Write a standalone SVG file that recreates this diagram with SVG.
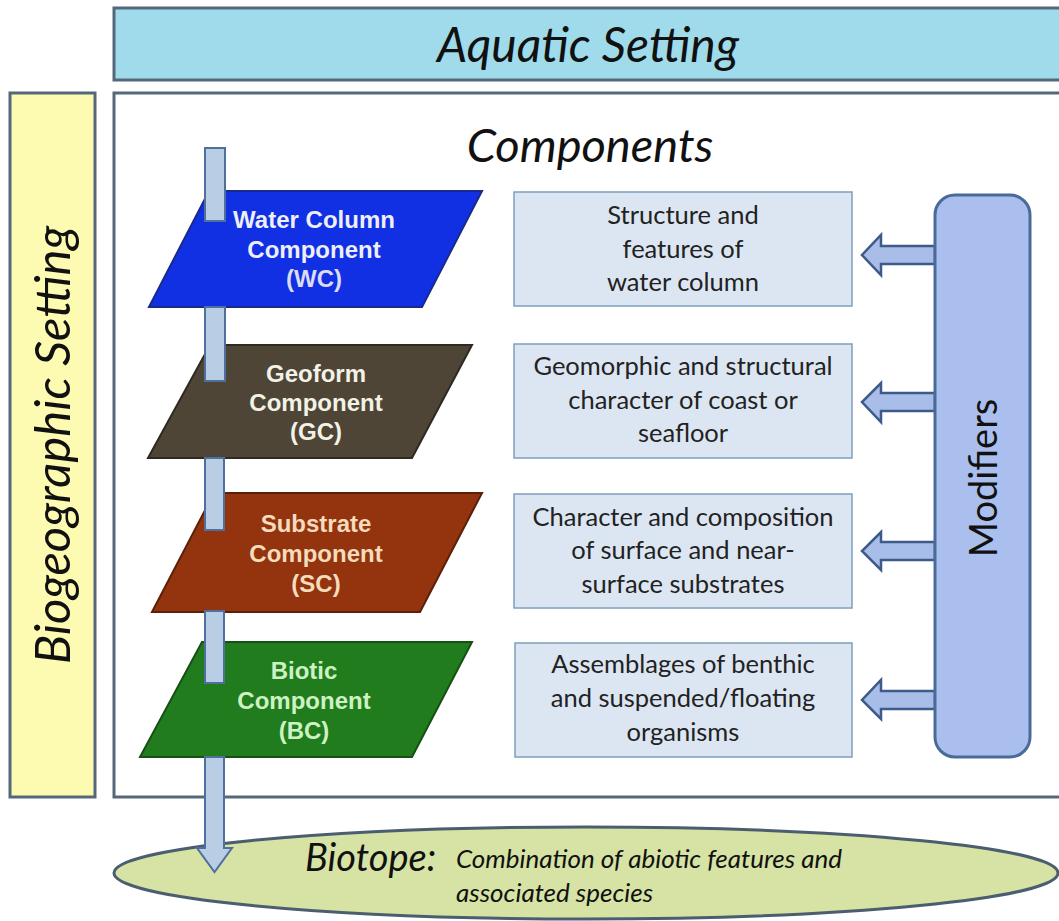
<svg xmlns="http://www.w3.org/2000/svg" width="1059" height="921" viewBox="0 0 1059 921">
<style>
.frame{stroke:#546879;stroke-width:3}
.cal{font-family:Lato,"Open Sans",sans-serif}
.it{font-style:italic}
.desc rect{fill:#dce6f2;stroke:#7f9fbd;stroke-width:1.5}
.desc text{font-family:Lato,"Open Sans",sans-serif;font-size:25.5px;fill:#222;text-anchor:middle}
.para text{font-family:"Liberation Sans",Arial,sans-serif;font-size:24px;font-weight:bold;text-anchor:middle}
.pole{fill:#b9cde5;stroke:#4f6f9c;stroke-width:2}
.marr{fill:#a9bde9;stroke:#3d5a8a;stroke-width:2.5;stroke-linejoin:miter}
</style>
<rect width="1059" height="921" fill="#ffffff"/>
<g id="aquatic">
<rect class="frame" x="114" y="8" width="950" height="72" fill="#9fdbea"/>
<text class="cal it" x="588" y="62" font-size="48" text-anchor="middle" fill="#111">Aquatic Setting</text>
</g>
<g id="biogeographic">
<rect class="frame" x="10" y="93" width="85" height="704" fill="#fdfbb2"/>
<text class="cal it" transform="translate(70,445) rotate(-90)" font-size="49" text-anchor="middle" fill="#111">Biogeographic Setting</text>
</g>
<g id="components-frame">
<rect class="frame" x="114" y="93" width="950" height="704" fill="#ffffff"/>
<text class="cal it" x="590" y="162" font-size="47" text-anchor="middle" fill="#111">Components</text>
</g>
<g id="wc" class="para">
<polygon points="209,191 482,191 422,307 149,307" fill="#1130e4" stroke="#1a2a8a" stroke-width="2"/>
<text x="314" y="228" fill="#eeeef6">Water Column</text>
<text x="314" y="258" fill="#eeeef6">Component</text>
<text x="314" y="287" fill="#dcdcf0" font-weight="normal">(WC)</text>
</g>
<g id="gc" class="para">
<polygon points="210,345 472,345 412,458 148,458" fill="#4e4537" stroke="#2e2a22" stroke-width="2"/>
<text x="316" y="382" fill="#f2f2e6">Geoform</text>
<text x="316" y="411" fill="#f2f2e6">Component</text>
<text x="316" y="440" fill="#f2f2e6">(GC)</text>
</g>
<g id="sc" class="para">
<polygon points="214,493 482,493 420,612 152,612" fill="#93340f" stroke="#5a200a" stroke-width="2"/>
<text x="316" y="532" fill="#f6dcbc">Substrate</text>
<text x="316" y="562" fill="#f6dcbc">Component</text>
<text x="316" y="592" fill="#f6dcbc">(SC)</text>
</g>
<g id="bc" class="para">
<polygon points="202,642 472,642 412,757 140,757" fill="#217c1d" stroke="#174f14" stroke-width="2"/>
<text x="304" y="679" fill="#cdf2c4">Biotic</text>
<text x="304" y="709" fill="#cdf2c4">Component</text>
<text x="304" y="739" fill="#cdf2c4">(BC)</text>
</g>
<g id="desc-wc" class="desc">
<rect x="514" y="192" width="338" height="114"/>
<text x="683" y="224">Structure and</text>
<text x="683" y="258">features of</text>
<text x="683" y="291">water column</text>
</g>
<g id="desc-gc" class="desc">
<rect x="514" y="344" width="338" height="114"/>
<text x="683" y="375">Geomorphic and structural</text>
<text x="683" y="409">character of coast or</text>
<text x="683" y="442">seafloor</text>
</g>
<g id="desc-sc" class="desc">
<rect x="514" y="494" width="338" height="114"/>
<text x="683" y="526">Character and composition</text>
<text x="683" y="559">of surface and near-</text>
<text x="683" y="593">surface substrates</text>
</g>
<g id="desc-bc" class="desc">
<rect x="515" y="643" width="337" height="114"/>
<text x="683" y="673">Assemblages of benthic</text>
<text x="683" y="707">and suspended/floating</text>
<text x="683" y="741">organisms</text>
</g>
<g id="biotope">
<ellipse cx="586" cy="873" rx="472" ry="46" fill="#d6e3a4" stroke="#4a5e70" stroke-width="3"/>
<text class="cal it" x="305" y="871" font-size="38" fill="#111">Biotope:</text>
<text class="cal it" x="456" y="868" font-size="26" fill="#111">Combination of abiotic features and</text>
<text class="cal it" x="456" y="902" font-size="26" fill="#111">associated species</text>
</g>
<g id="connectors">
<rect class="pole" x="205" y="148" width="20" height="73"/>
<rect class="pole" x="205" y="307" width="20" height="74"/>
<rect class="pole" x="205" y="458" width="19" height="72"/>
<rect class="pole" x="205" y="611" width="19" height="72"/>
<polygon class="pole" points="205,757 224,757 224,848 232,848 214.5,872 197,848 205,848"/>
<polygon class="marr" points="935,246 881,246 881,235 862,255 881,275 881,264 935,264"/>
<polygon class="marr" points="935,393 881,393 881,383 862,402 881,422 881,411 935,411"/>
<polygon class="marr" points="935,542 881,542 881,532 862,551 881,570 881,560 935,560"/>
<polygon class="marr" points="935,691 881,691 881,680 862,700 881,719 881,709 935,709"/>
</g>
<g id="modifiers">
<rect x="935" y="195" width="95" height="562" rx="20" fill="#aabfee" stroke="#4a6a9a" stroke-width="3"/>
<text class="cal" transform="translate(997,478) rotate(-90)" font-size="38" text-anchor="middle" fill="#111">Modifiers</text>
</g>
</svg>
